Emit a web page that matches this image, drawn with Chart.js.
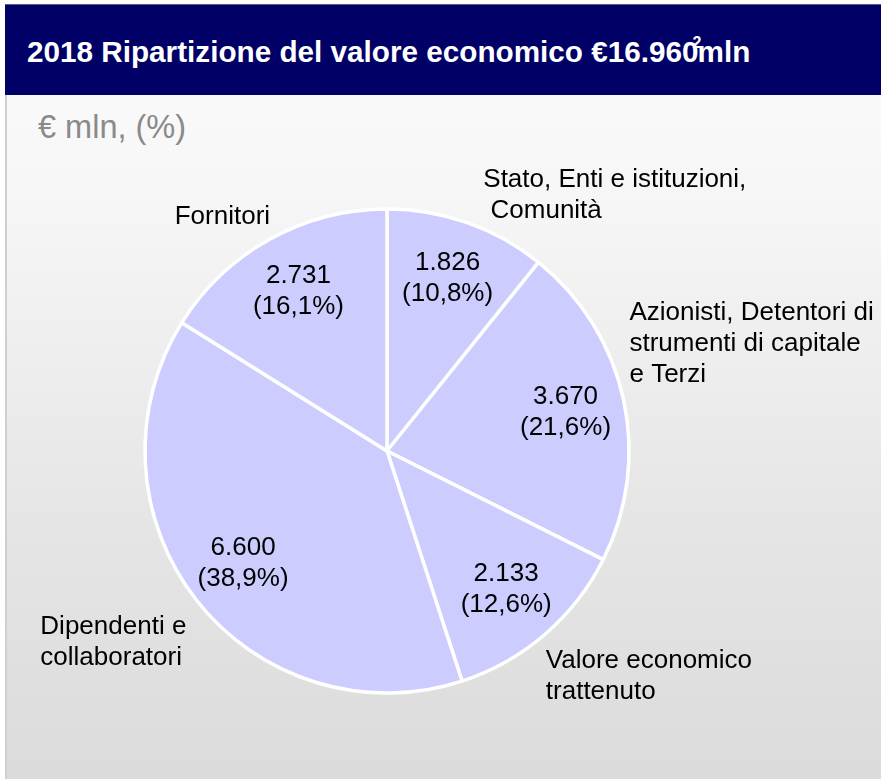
<!DOCTYPE html>
<html>
<head>
<meta charset="utf-8">
<script src="https://cdn.jsdelivr.net/npm/chart.js@4.4.1/dist/chart.umd.min.js"></script>
<style>
  html, body { margin: 0; padding: 0; background: #ffffff; }
  body { width: 881px; height: 779px; position: relative; overflow: hidden; font-family: "Liberation Sans", Arial, sans-serif; }
  .panel {
    position: absolute; left: 5px; top: 5px; width: 876px; height: 774px;
    border-left: 2px solid #cfcfcf; box-sizing: border-box;
    background: linear-gradient(to bottom, #fdfdfd 0%, #f6f6f6 25%, #e6e6e6 65%, #dbdbdb 100%);
  }
  .header {
    position: absolute; left: 5px; top: 4px; width: 876px; height: 91px;
    background: #000066; border-top: 1px solid #4a6080; box-sizing: border-box;
  }
  .title {
    position: absolute; left: 27px; top: 35px; color: #ffffff;
    font-weight: bold; font-size: 29.7px; white-space: nowrap;
  }
  .title sup { font-size: 16px; position: relative; top: -3px; margin-left: -6px; margin-right: -4px; }
  .subtitle {
    position: absolute; left: 38px; top: 109px; color: #8a8a8a;
    font-size: 32.5px; white-space: nowrap;
  }
  #myChart { position: absolute; left: 0; top: 0; }
</style>
</head>
<body>
<div class="panel"></div>
<div class="header"></div>
<div class="title">2018 Ripartizione del valore economico €16.960<sup>2</sup>mln</div>
<div class="subtitle">€ mln, (%)</div>
<canvas id="myChart" width="881" height="779"></canvas>
<script>
// slices, clockwise from 12 o'clock
const categories = [
    ['Stato, Enti e istituzioni,', ' Comunità'],
    ['Azionisti, Detentori di', 'strumenti di capitale', 'e Terzi'],
    ['Valore economico', 'trattenuto'],
    ['Dipendenti e', 'collaboratori'],
    ['Fornitori']
];
const values = [1826, 3670, 2133, 6600, 2731];
const sliceColor = '#ccccff';

// where each outside label sits, relative to the rim point at the slice middle
const nameOffsets = [[16, -43], [6, -87], [1, 26], [-156, 27], [-95, -22]];

function fmtThousands(n) {
    return String(n).replace(/\B(?=(\d{3})+(?!\d))/g, '.');
}

const total = values.reduce((a, v) => a + v, 0);

const sliceLabels = {
    id: 'sliceLabels',
    afterDatasetsDraw(chart) {
        const ctx = chart.ctx;
        const arcs = chart.getDatasetMeta(0).data;
        const lineH = 31;
        ctx.save();
        ctx.font = '26px "Liberation Sans", Arial, sans-serif';
        ctx.fillStyle = '#000000';
        ctx.textBaseline = 'middle';
        arcs.forEach((arc, i) => {
            const {x, y, startAngle, endAngle, outerRadius} = arc.getProps(['x', 'y', 'startAngle', 'endAngle', 'outerRadius'], true);
            const mid = (startAngle + endAngle) / 2;

            // value + share inside the slice
            const r = outerRadius * 0.755;
            const cx = x + Math.cos(mid) * r;
            const cy = y + Math.sin(mid) * r;
            const pct = (values[i] / total * 100).toFixed(1).replace('.', ',');
            ctx.textAlign = 'center';
            ctx.fillText(fmtThousands(values[i]), cx, cy - lineH / 2);
            ctx.fillText('(' + pct + '%)', cx, cy + lineH / 2);

            // category name outside
            const ax = x + Math.cos(mid) * outerRadius + nameOffsets[i][0];
            const ay = y + Math.sin(mid) * outerRadius + nameOffsets[i][1];
            ctx.textAlign = 'left';
            categories[i].forEach((line, k) => {
                ctx.fillText(line, ax, ay + k * lineH);
            });
        });
        ctx.restore();
    }
};

const ctx = document.getElementById('myChart').getContext('2d');
const myChart = new Chart(ctx, {
    type: 'pie',
    data: {
        labels: categories,
        datasets: [{
            data: values,
            backgroundColor: sliceColor,
            borderColor: '#ffffff',
            borderWidth: 3.5,
        }]
    },
    options: {
        responsive: false,
        animation: false,
        radius: 242,
        layout: {
            padding: { left: 100, right: 207, top: 150, bottom: 27 }
        },
        plugins: {
            legend: { display: false },
            tooltip: { enabled: false }
        }
    },
    plugins: [sliceLabels]
});
</script>
</body>
</html>
